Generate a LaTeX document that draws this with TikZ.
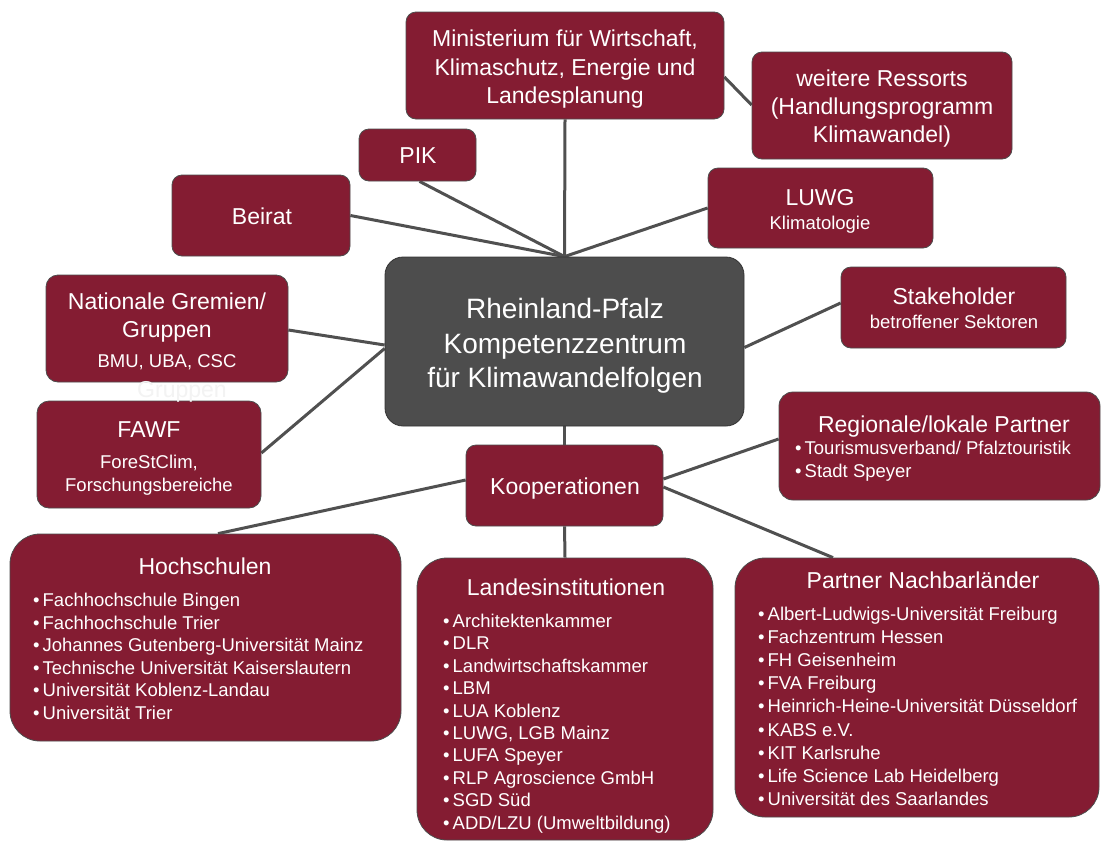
\documentclass[tikz,border=0pt]{standalone}
\usepackage{fontspec}
\setmainfont{Liberation Sans}
\usetikzlibrary{backgrounds}
\definecolor{boxred}{RGB}{132,28,50}
\definecolor{hubgray}{RGB}{77,77,77}
\definecolor{linegray}{RGB}{80,80,80}
\definecolor{ghost}{RGB}{243,243,243}
\pgfdeclarelayer{bg}
\pgfsetlayers{bg,background,main}
\begin{document}
\begin{tikzpicture}[x=1pt,y=-1pt,
  box/.style={draw=black!70, line width=0.8pt, fill=boxred, rounded corners=#1, inner sep=0pt},
  box/.default=10pt,
  big/.style={text=white, inner sep=0pt, anchor=base, font=\fontsize{23}{27}\selectfont},
  small/.style={text=white, inner sep=0pt, anchor=base, font=\fontsize{18.5}{22}\selectfont},
  huge/.style={text=white, inner sep=0pt, anchor=base, font=\fontsize{28}{33}\selectfont},
  item/.style={text=white, inner sep=0pt, anchor=base west, font=\fontsize{18.5}{22}\selectfont},
  conn/.style={draw=linegray, line width=3pt}]

\begin{pgfonlayer}{bg}
  \fill[white] (0,0) rectangle (1102,841);
\end{pgfonlayer}
\path[use as bounding box] (0,0) rectangle (1102,841);

% boxes
\node[box, minimum width=318pt, minimum height=107pt] (min) at (565,65.5) {};
\node[box, minimum width=260pt, minimum height=107pt] (wr) at (882,105.5) {};
\node[box, minimum width=117pt, minimum height=52pt] (pik) at (417.5,155) {};
\node[box, minimum width=178pt, minimum height=81pt] (beirat) at (261,215.5) {};
\node[box, minimum width=225pt, minimum height=80pt] (luwg) at (820.5,208) {};
\node[box=18pt, draw=black!80, fill=hubgray, minimum width=359pt, minimum height=169pt] (hub) at (564.5,341.5) {};
\node[box, minimum width=225pt, minimum height=81pt] (stake) at (953.5,307.5) {};
\node[box=12pt, minimum width=242pt, minimum height=107pt] (nat) at (167,328.5) {};
\node[box=12pt, minimum width=224pt, minimum height=107pt] (fawf) at (149,454.5) {};
\node[box=14pt, minimum width=321pt, minimum height=108pt] (reg) at (939.5,446) {};
\node[box, minimum width=197pt, minimum height=81pt] (koop) at (564.5,485.5) {};
\node[box=30pt, minimum width=391pt, minimum height=207pt] (hoch) at (205.5,637.5) {};
\node[box=30pt, minimum width=296pt, minimum height=282pt] (landes) at (565,699) {};
\node[box=30pt, minimum width=364pt, minimum height=259pt] (partner) at (917,687.5) {};

% connectors
\begin{scope}[on background layer]
  \draw[conn] (min.south) -- (hub.north);
  \draw[conn] ([xshift=2pt]pik.south) -- (hub.north);
  \draw[conn] (beirat.east) -- (hub.north);
  \draw[conn] (luwg.west) -- (hub.north);
  \draw[conn] ([yshift=-11.5pt]min.east) -- ([yshift=0.5pt]wr.west);
  \draw[conn] ([yshift=4.5pt]stake.west) -- ([yshift=-6pt]hub.east);
  \draw[conn] ([yshift=-1.5pt]nat.east) -- ([yshift=-3.5pt]hub.west);
  \draw[conn] ([yshift=1.5pt]fawf.east) -- ([yshift=-7pt]hub.west);
  \draw[conn] (hub.south) -- (koop.north);
  \draw[conn] (koop.south) -- (landes.north);
  \draw[conn] ([yshift=5.5pt]koop.west) -- ([xshift=12.5pt]hoch.north);
  \draw[conn] ([yshift=6.5pt]koop.east) -- ([yshift=7pt]reg.west);
  \draw[conn] ([yshift=-1.5pt]koop.east) -- ([xshift=-84pt]partner.north);
\end{scope}

% texts
\node[big] (min-a) at (565,46.5) {Ministerium für Wirtschaft,};
\node[big] (min-b) at (565,75) {Klimaschutz, Energie und};
\node[big] (min-c) at (565,103.5) {Landesplanung};

\node[big] (wr-a) at (882,86) {weitere Ressorts};
\node[big] (wr-b) at (882,114) {(Handlungsprogramm};
\node[big] (wr-c) at (882,142) {Klimawandel)};

\node[big] (pik-t) at (418,163) {PIK};
\node[big] (beirat-t) at (262,224) {Beirat};

\node[big] (luwg-a) at (820,205) {LUWG};
\node[small] (luwg-b) at (820,229) {Klimatologie};

\node[big] (stake-a) at (954,304) {Stakeholder};
\node[small] (stake-b) at (954,328.5) {betroffener Sektoren};

\node[big] (nat-a) at (167,309) {Nationale Gremien/};
\node[big] (nat-b) at (167,337) {Gruppen};
\node[small] (nat-c) at (167,367.5) {BMU, UBA, CSC};
\node[big, text=ghost] (ghost-t) at (182,397) {Gruppen};

\node[big] (fawf-a) at (149,437) {FAWF};
\node[small] (fawf-b) at (149,468.5) {ForeStClim,};
\node[small] (fawf-c) at (149,491.5) {Forschungsbereiche};

\node[huge] (hub-a) at (565,318) {Rheinland-Pfalz};
\node[huge] (hub-b) at (565,353) {Kompetenzzentrum};
\node[huge] (hub-c) at (565,387) {für Klimawandelfolgen};

\node[big] (koop-t) at (565,494) {Kooperationen};

\node[big] (reg-t) at (944,432) {Regionale/lokale Partner};
\foreach \t [count=\i] in {Tourismusverband/ Pfalztouristik, Stadt Speyer}
  \node[item] (reg-\i) at (795,{454.5+(\i-1)*23}) {•\hspace{3pt}\t};

\node[big] (hoch-t) at (205,574) {Hochschulen};
\foreach \t [count=\i] in {Fachhochschule Bingen, Fachhochschule Trier,
    Johannes Gutenberg-Universität Mainz, Technische Universität Kaiserslautern,
    Universität Koblenz-Landau, Universität Trier}
  \node[item] (hoch-\i) at (33,{606.5+(\i-1)*22.6}) {•\hspace{3pt}\t};

\node[big] (landes-t) at (566,595) {Landesinstitutionen};
\foreach \t [count=\i] in {Architektenkammer, DLR, Landwirtschaftskammer, LBM,
    LUA Koblenz, {LUWG, LGB Mainz}, LUFA Speyer, RLP Agroscience GmbH,
    SGD Süd, ADD/LZU (Umweltbildung)}
  \node[item] (landes-\i) at (443,{627.5+(\i-1)*22.4}) {•\hspace{3pt}\t};

\node[big] (partner-t) at (923,588) {Partner Nachbarländer};
\foreach \t [count=\i] in {Albert-Ludwigs-Universität Freiburg, Fachzentrum Hessen,
    FH Geisenheim, FVA Freiburg, Heinrich-Heine-Universität Düsseldorf, KABS e.V.,
    KIT Karlsruhe, Life Science Lab Heidelberg, Universität des Saarlandes}
  \node[item] (partner-\i) at (758,{620.5+(\i-1)*23.1}) {•\hspace{3pt}\t};
\end{tikzpicture}
\end{document}
